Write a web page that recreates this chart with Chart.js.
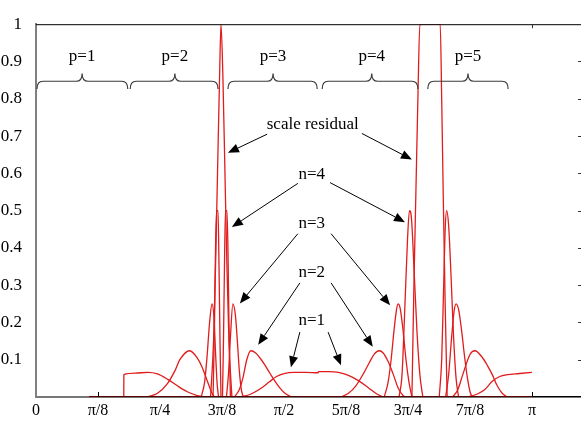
<!DOCTYPE html>
<html><head><meta charset="utf-8">
<script src="https://cdn.jsdelivr.net/npm/chart.js@4.4.1/dist/chart.umd.min.js"></script>
<style>
html,body{margin:0;padding:0;background:#fff;overflow:hidden;width:581px;height:425px;}
#wrap{position:absolute;left:-14px;top:0;width:620px;height:425px;}
canvas{display:block;}
</style></head><body>
<div id="wrap"><canvas id="c" width="620" height="425" style="width:620px;height:425px"></canvas></div>
<script>
// ---- axis ticks (x in units of pi) ----
const xTickValues = [0, 0.125, 0.25, 0.375, 0.5, 0.625, 0.75, 0.875, 1];
const xTickLabels = ['0', 'π/8', 'π/4', '3π/8', 'π/2', '5π/8', '3π/4', '7π/8', 'π'];
const yTickValues = [0.1, 0.2, 0.3, 0.4, 0.5, 0.6, 0.7, 0.8, 0.9, 1];
const yTickLabels = ['0.1', '0.2', '0.3', '0.4', '0.5', '0.6', '0.7', '0.8', '0.9', '1'];
const bottomTickValues = [0.125, 1];
const topTickValues = [1];

// ---- curves: [x/π, magnitude] ----
const n1Left = [[0.1770,0],[0.1772,0.060],[0.200,0.064],[0.225,0.066],[0.245,0.062],[0.265,0.048],[0.285,0.030],[0.305,0.014],[0.325,0.004],[0.345,0]];
const n1Mid = [[0.410,0],[0.430,0.006],[0.450,0.020],[0.470,0.040],[0.485,0.055],[0.500,0.063],[0.520,0.066],[0.545,0.066],[0.5685,0.065],[0.5695,0.068],[0.590,0.068],[0.610,0.066],[0.630,0.058],[0.650,0.044],[0.670,0.025],[0.685,0.010],[0.700,0]];
const n1Right = [[0.870,0],[0.890,0.008],[0.905,0.020],[0.920,0.042],[0.935,0.055],[0.950,0.060],[0.975,0.063],[1.000,0.066]];
const n2a = [[0.225,0],[0.245,0.010],[0.265,0.036],[0.280,0.070],[0.290,0.100],[0.310,0.124],[0.325,0.105],[0.335,0.080],[0.345,0.044],[0.355,0.010],[0.360,0]];
const n2b = [[0.400,0],[0.410,0.020],[0.417,0.050],[0.425,0.100],[0.433,0.124],[0.443,0.118],[0.452,0.104],[0.462,0.085],[0.472,0.063],[0.482,0.042],[0.492,0.024],[0.502,0.010],[0.515,0]];
const n2c = [[0.615,0],[0.630,0.010],[0.645,0.030],[0.660,0.062],[0.672,0.092],[0.682,0.115],[0.692,0.124],[0.700,0.118],[0.710,0.095],[0.720,0.062],[0.730,0.025],[0.740,0.004],[0.745,0]];
const n2d = [[0.840,0],[0.850,0.018],[0.861,0.062],[0.875,0.114],[0.885,0.124],[0.900,0.106],[0.910,0.085],[0.920,0.060],[0.930,0.030],[0.940,0.010],[0.950,0]];
const n3a = [[0.333,0],[0.340,0.04],[0.345,0.11],[0.350,0.20],[0.355,0.25],[0.359,0.21],[0.362,0.12],[0.365,0.04],[0.368,0]];
const n3b = [[0.384,0],[0.388,0.06],[0.392,0.16],[0.397,0.25],[0.402,0.22],[0.406,0.15],[0.410,0.07],[0.414,0.02],[0.418,0]];
const n3c = [[0.702,0],[0.710,0.04],[0.716,0.10],[0.722,0.18],[0.727,0.235],[0.730,0.25],[0.734,0.24],[0.740,0.18],[0.746,0.10],[0.752,0.04],[0.758,0]];
const n3d = [[0.826,0],[0.832,0.06],[0.838,0.16],[0.843,0.23],[0.847,0.25],[0.852,0.235],[0.858,0.18],[0.864,0.11],[0.870,0.05],[0.876,0.01],[0.880,0]];
const n4a = [[0.357,0],[0.360,0.2],[0.362,0.4],[0.364,0.5],[0.367,0.5],[0.369,0.35],[0.371,0.15],[0.373,0]];
const n4b = [[0.376,0],[0.378,0.15],[0.380,0.35],[0.382,0.5],[0.385,0.5],[0.387,0.4],[0.389,0.2],[0.392,0]];
const n4c = [[0.732,0],[0.738,0.06],[0.744,0.25],[0.749,0.42],[0.753,0.5],[0.757,0.48],[0.762,0.35],[0.768,0.18],[0.774,0.06],[0.780,0]];
const n4d = [[0.813,0],[0.818,0.10],[0.822,0.30],[0.825,0.45],[0.828,0.5],[0.832,0.46],[0.837,0.32],[0.842,0.16],[0.847,0.05],[0.852,0]];
const residualA = [[0.352,0],[0.358,0.15],[0.362,0.35],[0.366,0.6],[0.370,0.85],[0.373,1.0],[0.377,0.85],[0.381,0.6],[0.385,0.35],[0.389,0.15],[0.395,0]];
const residualB = [[0.758,0],[0.762,0.3],[0.766,0.55],[0.770,0.8],[0.774,1.0],[0.815,1.0],[0.818,0.8],[0.821,0.55],[0.825,0.25],[0.829,0]];
const zeroLevel = [[0.107,0],[1.0,0]];
const zeroTail = [[1.0,0],[1.113,0]];

// ---- annotations (data coords) ----
const noteTexts = ['scale residual', 'n=4', 'n=3', 'n=2', 'n=1'];
const noteX = [0.558, 0.556, 0.556, 0.556, 0.556];
const noteY = [0.731, 0.596, 0.466, 0.334, 0.205];
// arrows: [x0, y0, x1(tip), y1(tip)]
const arrows = [
  [0.466,0.705,0.387,0.655],[0.657,0.707,0.758,0.637],
  [0.528,0.573,0.395,0.456],[0.593,0.575,0.744,0.469],
  [0.528,0.438,0.411,0.251],[0.595,0.438,0.714,0.246],
  [0.532,0.306,0.448,0.140],[0.595,0.306,0.679,0.135],
  [0.532,0.174,0.514,0.080],[0.589,0.174,0.615,0.085]
];
const braceLabels = ['p=1','p=2','p=3','p=4','p=5'];
const braceStart = [0.002, 0.190, 0.387, 0.577, 0.790];
const braceEnd   = [0.185, 0.367, 0.567, 0.770, 0.952];
const braceMid   = [0.093, 0.280, 0.478, 0.677, 0.871];
const braceLevel = 0.847, braceTip = 0.868, braceFoot = 0.826, braceTextLevel = 0.912;

const RED = 'rgb(224,28,28)';
const toPts = a => a.map(p => ({x: p[0], y: p[1]}));
const curves = [n1Left,n1Mid,n1Right,n2a,n2b,n2c,n2d,n3a,n3b,n3c,n3d,n4a,n4b,n4c,n4d,residualA,residualB];
const datasets = [
  {data: toPts(zeroLevel), borderColor: '#5a0000', borderWidth: 2},
  {data: toPts(zeroTail), borderColor: '#000', borderWidth: 2}
].concat(curves.map(c => ({data: toPts(c), borderColor: RED, borderWidth: 1.3})));

const FONT = "'Liberation Serif', 'DejaVu Serif', serif";

const decor = {
  id: 'decor',
  afterDatasetsDraw(chart) {
    const {ctx, chartArea: ca, scales: {x, y}} = chart;
    ctx.save();
    // top frame line
    ctx.strokeStyle = '#000'; ctx.lineWidth = 1;
    ctx.beginPath(); ctx.moveTo(ca.left, ca.top + 0.5); ctx.lineTo(ca.right, ca.top + 0.5); ctx.stroke();
    // right inward ticks
    ctx.strokeStyle = '#333';
    yTickValues.forEach(v => {
      const py = Math.round(y.getPixelForValue(v)) + 0.5;
      ctx.beginPath(); ctx.moveTo(ca.right - 10, py); ctx.lineTo(ca.right, py); ctx.stroke();
    });
    topTickValues.forEach(v => {
      const px = Math.round(x.getPixelForValue(v)) + 0.5;
      ctx.beginPath(); ctx.moveTo(px, ca.top); ctx.lineTo(px, ca.top + 4); ctx.stroke();
    });
    ctx.strokeStyle = '#000';
    bottomTickValues.forEach(v => {
      const px = Math.round(x.getPixelForValue(v)) + 0.5;
      ctx.beginPath(); ctx.moveTo(px, ca.bottom); ctx.lineTo(px, ca.bottom - 5); ctx.stroke();
    });
    // braces
    ctx.strokeStyle = '#3a3a3a'; ctx.lineWidth = 1.2;
    const yl = y.getPixelForValue(braceLevel), yt = y.getPixelForValue(braceTip), yf = y.getPixelForValue(braceFoot);
    const r = 6;
    ctx.fillStyle = '#000';
    ctx.font = '17px ' + FONT; ctx.textAlign = 'center'; ctx.textBaseline = 'middle';
    braceLabels.forEach((lab, i) => {
      const x0 = x.getPixelForValue(braceStart[i]), x1 = x.getPixelForValue(braceEnd[i]), xc = x.getPixelForValue(braceMid[i]);
      ctx.beginPath();
      ctx.moveTo(x0, yf);
      ctx.quadraticCurveTo(x0, yl, x0 + r, yl);
      ctx.lineTo(xc - r, yl);
      ctx.quadraticCurveTo(xc, yl, xc, yt);
      ctx.quadraticCurveTo(xc, yl, xc + r, yl);
      ctx.lineTo(x1 - r, yl);
      ctx.quadraticCurveTo(x1, yl, x1, yf);
      ctx.stroke();
      ctx.fillText(lab, xc, y.getPixelForValue(braceTextLevel));
    });
    // note texts
    noteTexts.forEach((t, i) => ctx.fillText(t, x.getPixelForValue(noteX[i]), y.getPixelForValue(noteY[i])));
    // arrows
    ctx.strokeStyle = '#000'; ctx.lineWidth = 1;
    arrows.forEach(a => {
      const sx = x.getPixelForValue(a[0]), sy = y.getPixelForValue(a[1]);
      const tx = x.getPixelForValue(a[2]), ty = y.getPixelForValue(a[3]);
      const ang = Math.atan2(ty - sy, tx - sx);
      const L = 11, W = 4.5;
      const bx = tx - L * Math.cos(ang), by = ty - L * Math.sin(ang);
      ctx.beginPath(); ctx.moveTo(sx, sy); ctx.lineTo(bx, by); ctx.stroke();
      ctx.beginPath();
      ctx.moveTo(tx, ty);
      ctx.lineTo(bx + W * Math.sin(ang), by - W * Math.cos(ang));
      ctx.lineTo(bx - W * Math.sin(ang), by + W * Math.cos(ang));
      ctx.closePath(); ctx.fill();
    });
    ctx.restore();
  }
};

new Chart(document.getElementById('c'), {
  type: 'line',
  data: {datasets},
  options: {
    responsive: false,
    animation: false,
    devicePixelRatio: 1,
    layout: {padding: {left: 0, right: 18, top: 11, bottom: 0}},
    elements: {point: {radius: 0}, line: {cubicInterpolationMode: 'monotone', borderJoinStyle: 'round'}},
    plugins: {legend: {display: false}, tooltip: {enabled: false}},
    scales: {
      x: {
        type: 'linear', min: 0, max: 1.113,
        afterBuildTicks: s => { s.ticks = xTickValues.map(v => ({value: v})); },
        afterFit: s => { s.height = 28; },
        ticks: {
          autoSkip: false, maxRotation: 0, padding: 4, color: '#000',
          font: {family: FONT, size: 16},
          callback: (v, i) => xTickLabels[i]
        },
        grid: {display: false, drawTicks: false},
        border: {display: true, color: '#777', width: 2}
      },
      y: {
        type: 'linear', min: 0, max: 1,
        afterBuildTicks: s => { s.ticks = yTickValues.map(v => ({value: v})); },
        afterFit: s => { s.width = 50; },
        ticks: {
          padding: 14, color: '#000',
          font: {family: FONT, size: 17},
          callback: (v, i) => yTickLabels[i]
        },
        grid: {display: false, drawTicks: false},
        border: {display: true, color: '#808080', width: 2}
      }
    }
  },
  plugins: [decor]
});
</script>
</body></html>
